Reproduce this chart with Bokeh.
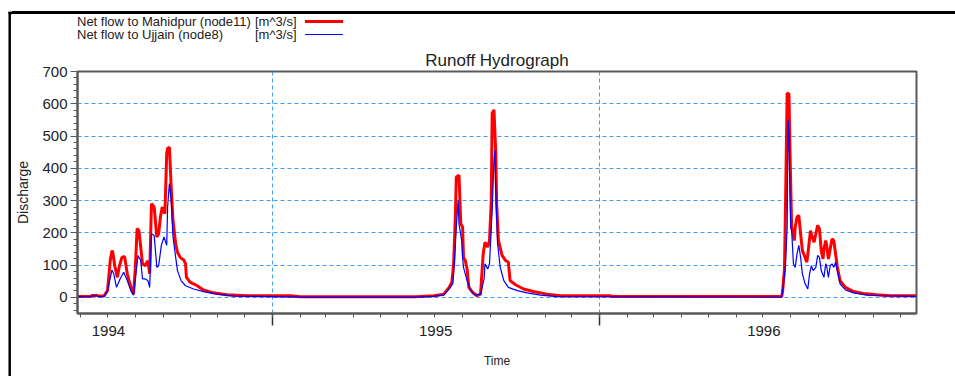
import pandas as pd
from bokeh.plotting import figure
from bokeh.layouts import row, column
from bokeh.models import Range1d, FixedTicker, DatetimeAxis, DatetimeTickFormatter, Div
from bokeh.embed import file_html
from bokeh.resources import INLINE

FONT = "Liberation Sans"

# ---------------- data ----------------
mahidpur_dates = [
    "1994-05-28", "1994-06-12", "1994-06-14", "1994-06-19", "1994-06-21", "1994-06-27",
    "1994-07-01", "1994-07-04", "1994-07-06", "1994-07-07", "1994-07-09", "1994-07-12",
    "1994-07-14", "1994-07-17", "1994-07-20", "1994-07-23", "1994-07-27", "1994-07-30",
    "1994-08-01", "1994-08-03", "1994-08-05", "1994-08-07", "1994-08-09", "1994-08-12",
    "1994-08-15", "1994-08-17", "1994-08-19", "1994-08-22", "1994-08-25", "1994-08-27",
    "1994-08-29", "1994-08-31", "1994-09-03", "1994-09-05", "1994-09-06", "1994-09-08",
    "1994-09-10", "1994-09-12", "1994-09-15", "1994-09-17", "1994-09-20", "1994-09-24",
    "1994-09-26", "1994-09-27", "1994-10-01", "1994-10-09", "1994-10-16", "1994-10-27",
    "1994-11-11", "1994-12-04", "1995-01-21", "1995-02-01", "1995-06-10", "1995-06-30",
    "1995-07-11", "1995-07-17", "1995-07-20", "1995-07-22", "1995-07-24", "1995-07-25",
    "1995-07-28", "1995-07-30", "1995-08-01", "1995-08-02", "1995-08-04", "1995-08-06",
    "1995-08-08", "1995-08-12", "1995-08-17", "1995-08-21", "1995-08-24", "1995-08-26",
    "1995-08-29", "1995-08-31", "1995-09-02", "1995-09-03", "1995-09-05", "1995-09-07",
    "1995-09-08", "1995-09-10", "1995-09-14", "1995-09-18", "1995-09-21", "1995-09-23",
    "1995-09-29", "1995-10-08", "1995-10-19", "1995-11-03", "1995-11-18", "1996-01-13",
    "1996-01-14", "1996-07-22", "1996-07-23", "1996-07-25", "1996-07-26", "1996-07-28",
    "1996-07-30", "1996-07-31", "1996-08-01", "1996-08-02", "1996-08-03", "1996-08-05",
    "1996-08-06", "1996-08-08", "1996-08-10", "1996-08-12", "1996-08-14", "1996-08-17",
    "1996-08-19", "1996-08-21", "1996-08-23", "1996-08-25", "1996-08-27", "1996-08-29",
    "1996-08-31", "1996-09-02", "1996-09-04", "1996-09-06", "1996-09-07", "1996-09-09",
    "1996-09-10", "1996-09-12", "1996-09-14", "1996-09-16", "1996-09-18", "1996-09-20",
    "1996-09-22", "1996-09-25", "1996-10-01", "1996-10-10", "1996-10-21", "1996-11-05",
    "1996-11-20", "1996-12-19",
]
mahidpur_flow = [
    3, 3, 6, 6, 4, 4,
    21, 114, 145, 138, 98, 62,
    95, 124, 127, 73, 31, 10,
    93, 213, 207, 156, 104, 98,
    114, 73, 290, 280, 187, 197,
    249, 280, 259, 446, 462, 465,
    342, 239, 166, 140, 124, 116,
    104, 62, 47, 36, 23, 14,
    8, 5, 5, 2, 2, 5,
    10, 31, 47, 104, 259, 373,
    378, 228, 218, 124, 114, 88,
    31, 16, 5, 10, 135, 171,
    156, 176, 301, 571, 581, 446,
    290, 176, 130, 114, 109, 52,
    39, 26, 18, 10, 5, 5,
    3, 3, 21, 88, 259, 633,
    630, 477, 342, 218, 207, 176,
    218, 249, 254, 197, 145, 124,
    109, 156, 207, 187, 171, 197,
    223, 212, 145, 119, 150, 176,
    161, 119, 150, 181, 176, 135,
    93, 52, 31, 18, 12, 8,
    5, 5,
]

ujjain_dates = [
    "1994-05-28", "1994-06-12", "1994-06-14", "1994-06-19", "1994-06-21", "1994-06-27",
    "1994-07-01", "1994-07-06", "1994-07-08", "1994-07-11", "1994-07-15", "1994-07-19",
    "1994-07-23", "1994-07-27", "1994-07-30", "1994-08-01", "1994-08-04", "1994-08-07",
    "1994-08-09", "1994-08-12", "1994-08-15", "1994-08-17", "1994-08-19", "1994-08-22",
    "1994-08-25", "1994-08-27", "1994-08-30", "1994-09-02", "1994-09-05", "1994-09-06",
    "1994-09-08", "1994-09-10", "1994-09-12", "1994-09-15", "1994-09-17", "1994-09-21",
    "1994-09-26", "1994-10-05", "1994-10-16", "1994-10-31", "1994-11-19", "1995-02-01",
    "1995-06-10", "1995-06-30", "1995-07-11", "1995-07-17", "1995-07-21", "1995-07-23",
    "1995-07-25", "1995-07-27", "1995-07-28", "1995-07-31", "1995-08-01", "1995-08-02",
    "1995-08-06", "1995-08-10", "1995-08-15", "1995-08-21", "1995-08-25", "1995-08-26",
    "1995-08-29", "1995-08-31", "1995-09-03", "1995-09-05", "1995-09-06", "1995-09-07",
    "1995-09-09", "1995-09-12", "1995-09-16", "1995-09-21", "1995-10-01", "1995-10-12",
    "1995-10-27", "1995-11-14", "1996-07-22", "1996-07-23", "1996-07-26", "1996-07-28",
    "1996-07-29", "1996-07-30", "1996-07-31", "1996-08-01", "1996-08-02", "1996-08-04",
    "1996-08-06", "1996-08-08", "1996-08-10", "1996-08-12", "1996-08-14", "1996-08-17",
    "1996-08-20", "1996-08-22", "1996-08-24", "1996-08-26", "1996-08-29", "1996-08-31",
    "1996-09-02", "1996-09-04", "1996-09-07", "1996-09-09", "1996-09-10", "1996-09-12",
    "1996-09-14", "1996-09-16", "1996-09-18", "1996-09-20", "1996-09-22", "1996-09-25",
    "1996-10-01", "1996-10-10", "1996-10-25", "1996-11-09", "1996-12-19",
]
ujjain_flow = [
    2, 2, 5, 5, 2, 3,
    21, 85, 72, 31, 57, 78,
    52, 21, 7, 57, 130, 114,
    57, 57, 52, 31, 197, 192,
    93, 98, 161, 187, 161, 280,
    353, 301, 187, 124, 83, 52,
    36, 26, 18, 10, 4, 1,
    1, 3, 7, 26, 42, 114,
    218, 301, 228, 176, 124, 93,
    52, 21, 7, 10, 57, 104,
    88, 104, 270, 425, 456, 332,
    166, 93, 52, 31, 21, 14,
    7, 2, 1, 21, 93, 218,
    550, 508, 342, 218, 207, 104,
    93, 135, 161, 124, 73, 42,
    26, 73, 98, 83, 93, 130,
    124, 83, 62, 104, 98, 62,
    98, 104, 93, 109, 83, 42,
    23, 14, 7, 5, 3,
]

x_start, x_end = "1994-05-28 12:00", "1996-12-19 06:00"
y_start, y_end = -50, 700
year_starts = ["1995-01-01", "1996-01-01"]
year_label_dates = ["1994-07-02", "1995-07-02", "1996-07-02"]
year_labels = ["1994", "1995", "1996"]
month_starts = [d.strftime("%Y-%m-%d") for d in pd.date_range("1994-06-01", "1996-12-01", freq="MS")]
y_major = [0, 100, 200, 300, 400, 500, 600, 700]
y_minor = list(range(-40, 701, 20))

legend_names = ["Net flow to Mahidpur (node11)", "Net flow to Ujjain (node8)"]
legend_units = ["[m^3/s]", "[m^3/s]"]
legend_colors = ["#ff0000", "#0000ff"]
legend_widths = [3, 1.3]


def ms(dates):
    return [int(v) for v in pd.to_datetime(dates).values.astype("datetime64[ms]").astype("int64")]


# ---------------- layout (page pixels) ----------------
W, H = 955, 376
LEFT_W = 12          # left strip carrying the outer frame's left edge
TOP_H = 45           # top strip carrying the legend
FL, FT, FR, FB = 77, 71, 916, 313   # plot frame in page pixels

GRID = "#3d9cff"
AX = "#5a5a5a"
TXT = "#222222"
FRAME = "black"

# left strip (figure): outer frame left edge + start of top edge
fl = figure(width=LEFT_W, height=H, output_backend="svg", toolbar_location=None,
            x_range=Range1d(0, LEFT_W), y_range=Range1d(H, 0),
            x_axis_location=None, y_axis_location=None,
            min_border=0, background_fill_color="white", border_fill_color="white")
fl.outline_line_color = None
fl.grid.visible = False
fl.segment(x0=[9.2, 8], y0=[11.3, 12.5], x1=[9.2, LEFT_W], y1=[H, 12.5],
           line_color=FRAME, line_width=2.5)

# top strip (HTML): rest of top edge + legend (text followed by line sample)
rows_y = [21.0, 34.3]
items = []
for name, unit, yy, c, w in zip(legend_names, legend_units, rows_y, legend_colors, legend_widths):
    top = yy - 7.5
    items.append(f'<div style="position:absolute;left:{77 - LEFT_W}px;top:{top}px;white-space:pre;">{name}</div>')
    items.append(f'<div style="position:absolute;left:{255 - LEFT_W}px;top:{top}px;white-space:pre;">{unit}</div>')
    items.append(f'<div style="position:absolute;left:{305 - LEFT_W}px;top:{yy - w / 2}px;'
                 f'width:38px;height:{w}px;background:{c};"></div>')
html = (f'<div style="position:relative;width:{W - LEFT_W}px;height:{TOP_H}px;overflow:hidden;'
        f'font-family:\'{FONT}\';font-size:13px;line-height:15px;color:{TXT};margin:0;padding:0;">'
        f'<div style="position:absolute;left:0;top:11.25px;width:{W - LEFT_W}px;height:2.5px;background:{FRAME};"></div>'
        + "".join(items) + '</div>')
ft = Div(text=html, width=W - LEFT_W, height=TOP_H, margin=0)

# main chart
PW, PH = W - LEFT_W, H - TOP_H
p = figure(width=PW, height=PH, output_backend="svg", toolbar_location=None,
           x_axis_type="datetime",
           x_range=Range1d(*ms([x_start, x_end])), y_range=Range1d(y_start, y_end),
           min_border_left=FL - LEFT_W, min_border_right=W - FR,
           min_border_top=FT - TOP_H, min_border_bottom=H - FB,
           background_fill_color="white", border_fill_color="white")

p.outline_line_color = AX
p.outline_line_width = 2

p.title.text = "Runoff Hydrograph"
p.title.align = "center"
p.title.text_font = FONT
p.title.text_font_size = "17px"
p.title.text_font_style = "normal"
p.title.text_color = TXT
p.title.standoff = 3

ya = p.yaxis[0]
ya.ticker = FixedTicker(ticks=y_major, minor_ticks=y_minor)
ya.major_tick_out = 7
ya.major_tick_in = 0
ya.minor_tick_out = 4
ya.minor_tick_in = 0
ya.axis_line_color = AX
ya.axis_line_width = 2
ya.major_tick_line_color = AX
ya.minor_tick_line_color = AX
ya.major_label_text_font = FONT
ya.major_label_text_font_size = "15px"
ya.major_label_text_color = TXT
ya.major_label_standoff = 3
ya.axis_label = "Discharge"
ya.axis_label_text_font = FONT
ya.axis_label_text_font_size = "14px"
ya.axis_label_text_font_style = "normal"
ya.axis_label_text_color = TXT
ya.axis_label_standoff = 8

xa = p.xaxis[0]
xa.ticker = FixedTicker(ticks=ms(year_starts), minor_ticks=ms(month_starts))
xa.major_tick_out = 12
xa.major_tick_in = 0
xa.minor_tick_out = 4
xa.minor_tick_in = 0
xa.axis_line_color = AX
xa.axis_line_width = 2
xa.major_tick_line_color = "#333333"
xa.major_tick_line_width = 1.5
xa.minor_tick_line_color = AX
xa.major_label_text_font_size = "1px"
xa.major_label_text_alpha = 0
xa.major_label_standoff = 0

xb = DatetimeAxis(ticker=FixedTicker(ticks=ms(year_label_dates), minor_ticks=[]),
                  formatter=DatetimeTickFormatter(years="%Y", months="%Y", days="%Y"),
                  major_label_overrides={t: lab for t, lab in zip(ms(year_label_dates), year_labels)},
                  axis_line_color=None, major_tick_line_color=None, minor_tick_line_color=None,
                  major_tick_out=0, major_tick_in=0, minor_tick_out=0, minor_tick_in=0,
                  major_label_standoff=0,
                  major_label_text_font=FONT, major_label_text_font_size="15px",
                  major_label_text_color=TXT,
                  axis_label="Time", axis_label_text_font=FONT, axis_label_text_font_size="12px",
                  axis_label_text_font_style="normal", axis_label_text_color=TXT,
                  axis_label_standoff=15)
p.add_layout(xb, "below")

p.xgrid.ticker = FixedTicker(ticks=ms(year_starts))
p.ygrid.ticker = FixedTicker(ticks=y_major)
for g in (p.xgrid[0], p.ygrid[0]):
    g.grid_line_color = GRID
    g.grid_line_dash = "4 3"
    g.grid_line_width = 1

p.line(ms(mahidpur_dates), mahidpur_flow, line_color="#ff0000", line_width=3)
p.line(ms(ujjain_dates), ujjain_flow, line_color="#0000ff", line_width=1.2)

layout = row(fl, column(ft, p, spacing=0), spacing=0)

open("out.html", "w").write(file_html(layout, INLINE))
